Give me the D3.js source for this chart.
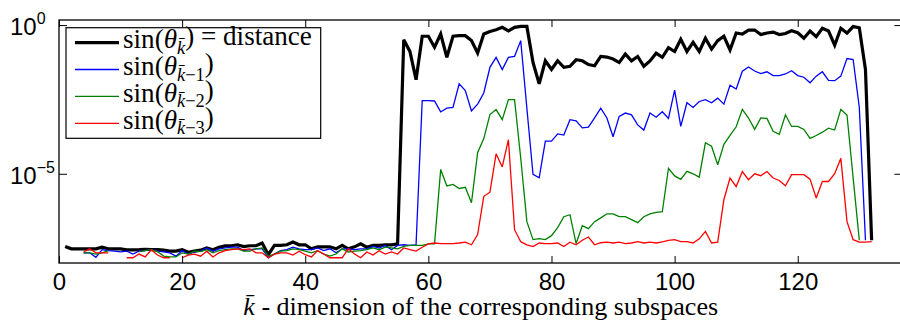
<!DOCTYPE html>
<html>
<head>
<meta charset="utf-8">
<script src="https://cdn.jsdelivr.net/npm/d3@7"></script>
<style>
  body { margin: 0; background: #fff; }
  svg { display: block; }
</style>
</head>
<body>
<script>
// values, one entry per k = 1..132 (null = not drawn)
let distance = [
  3.6e-8, 3.0e-8, 3.0e-8, 3.0e-8, 3.0e-8, 3.0e-8, 3.4e-8, 3.0e-8, 3.0e-8, 3.0e-8,
  2.75e-8, 2.75e-8, 2.8e-8, 2.9e-8, 2.8e-8, 2.8e-8, 2.7e-8, 2.5e-8, 2.5e-8, 2.8e-8,
  2.3e-8, 2.5e-8, 2.7e-8, 3.2e-8, 2.8e-8, 3.4e-8, 3.75e-8, 3.8e-8, 4.1e-8, 3.55e-8,
  3.8e-8, 3.8e-8, 4.7e-8, 1.9e-8, 3.9e-8, 3.9e-8, 4.1e-8, 5.1e-8, 4.1e-8, 4.1e-8,
  3.0e-8, 3.5e-8, 3.5e-8, 3.5e-8, 3.0e-8, 3.9e-8, 3.0e-8, 3.5e-8, 4.4e-8, 3.4e-8,
  3.9e-8, 3.9e-8, 4.1e-8, 4.1e-8, 4.4e-8, 0.32, 0.13, 0.0146, 0.42, 0.42,
  0.18, 0.50, 0.082, 0.42, 0.44, 0.44, 0.30, 0.115, 0.50, 0.61,
  0.70, 0.84, 0.64, 0.84, 0.90, 0.90, 0.055, 0.0105, 0.063, 0.032,
  0.063, 0.038, 0.041, 0.068, 0.063, 0.047, 0.043, 0.088, 0.084, 0.072,
  0.055, 0.106, 0.063, 0.088, 0.041, 0.062, 0.113, 0.082, 0.173, 0.129,
  0.33, 0.129, 0.26, 0.129, 0.36, 0.155, 0.30, 0.42, 0.145, 0.54,
  0.50, 0.68, 0.68, 0.48, 0.54, 0.58, 0.48, 0.52, 0.64, 0.55,
  0.36, 0.63, 0.41, 0.78, 0.63, 0.21, 0.78, 0.54, 0.89, 0.81,
  0.032, 5.8e-8
];

let sinKm1 = [
  null, null, null, 2.2e-8, 2.2e-8, 1.56e-8, 2.8e-8, 2.6e-8, 2.5e-8, 2.35e-8,
  2.5e-8, 2.0e-8, 2.5e-8, 2.6e-8, 2.8e-8, 2.5e-8, 2.35e-8, 2.2e-8, 1.7e-8, 2.6e-8,
  2.0e-8, 2.35e-8, 2.5e-8, 3.2e-8, 2.5e-8, 3.0e-8, 3.2e-8, 3.4e-8, 3.4e-8, 2.6e-8,
  2.8e-8, 3.0e-8, 3.0e-8, 1.5e-8, 2.0e-8, 2.6e-8, 2.8e-8, 3.4e-8, 3.0e-8, 2.8e-8,
  2.8e-8, 3.2e-8, 2.6e-8, 3.0e-8, 2.2e-8, 3.0e-8, 3.0e-8, 2.8e-8, 3.0e-8, 3.0e-8,
  3.6e-8, 3.2e-8, 3.9e-8, 2.8e-8, 3.9e-8, 4.1e-8, 3.9e-8, 4.1e-8, 0.0029, 0.0029,
  0.0028, 0.0012, 0.0016, 0.0017, 0.0105, 0.0063, 0.0013, 0.0022, 0.0052, 0.038,
  0.082, 0.032, 0.082, 0.089, 0.30, 0.0016, 9.5e-6, 7.3e-6, 1.25e-4, 1.25e-4,
  2.2e-4, 2.0e-4, 6.6e-4, 6.0e-4, 3.5e-4, 3.7e-4, 7.6e-4, 0.0016, 7.5e-4, 1.75e-4,
  8.5e-4, 0.0011, 9.55e-4, 4.4e-4, 2.95e-4, 0.0011, 8.0e-4, 0.00122, 7.3e-4, 0.0065,
  3.9e-4, 0.00245, 0.0017, 0.0027, 0.0031, 0.00245, 0.0035, 0.0022, 0.0095, 0.0071,
  0.028, 0.039, 0.0286, 0.0233, 0.0269, 0.0200, 0.0200, 0.0227, 0.0293, 0.0200,
  0.0176, 0.0115, 0.0192, 0.0269, 0.0139, 0.0135, 0.0192, 0.075, 0.0695, 0.0017,
  5.8e-8, null
];

let sinKm2 = [
  null, null, null, 2.2e-8, 2.2e-8, 2.0e-8, 2.2e-8, 2.6e-8, null, null,
  null, null, 2.4e-8, 2.6e-8, 2.8e-8, 2.4e-8, 1.7e-8, 1.6e-8, 1.6e-8, 2.2e-8,
  2.0e-8, 2.5e-8, 2.4e-8, 2.8e-8, 2.2e-8, 2.6e-8, 2.8e-8, 3.0e-8, 3.0e-8, 2.5e-8,
  2.5e-8, 3.0e-8, 3.2e-8, 1.7e-8, 2.0e-8, 2.5e-8, 2.6e-8, 3.0e-8, 2.8e-8, 2.5e-8,
  2.2e-8, 2.6e-8, 2.0e-8, 1.7e-8, 2.0e-8, 3.0e-8, 2.35e-8, 2.5e-8, 2.6e-8, 2.8e-8,
  3.2e-8, 2.8e-8, 3.4e-8, 3.2e-8, 3.0e-8, 3.6e-8, 3.9e-8, 3.9e-8, 3.9e-8, 4.4e-8,
  4.4e-8, 1.4e-5, 3.9e-6, 4.4e-6, 3.2e-6, 3.5e-6, 1.06e-6, 5.1e-5, 1.53e-4, 9.8e-4,
  0.00144, 6.6e-4, 0.0031, 0.0031, 3.4e-5, 2.45e-7, 6.1e-8, 6.6e-8, 6.1e-8, 8.3e-8,
  1.54e-7, 3.6e-7, 4.2e-7, 4.5e-8, 1.8e-7, 1.43e-7, 2.45e-7, 3.3e-7, 4.5e-7, 4.5e-7,
  3.6e-7, 3.6e-7, 2.86e-7, 2.27e-7, 3.6e-7, 4.5e-7, 5.0e-7, 5.3e-7, 1.53e-5, 8.5e-6,
  6.5e-6, 1.21e-5, 1.0e-5, 7.7e-6, 1.1e-4, 8.4e-5, 2.0e-5, 9.8e-5, 1.96e-4, 3.8e-4,
  0.00146, 7.5e-4, 3.1e-4, 7.5e-4, 7.3e-4, 2.67e-4, 2.1e-4, 9.6e-4, 3.9e-4, 3.9e-4,
  3.1e-4, 1.55e-4, 1.94e-4, 2.5e-4, 3.4e-4, 2.95e-4, 0.00146, 9.5e-4, 7.3e-6, 5.8e-8,
  null, null
];

let sinKm3 = [
  null, null, null, 2.35e-8, 3.0e-8, 2.2e-8, 2.2e-8, 2.2e-8, null, null,
  1.5e-8, 1.5e-8, 2.0e-8, 1.6e-8, 2.8e-8, 1.85e-8, 1.5e-8, 1.5e-8, null, 1.5e-8,
  1.85e-8, 2.0e-8, 1.7e-8, 2.5e-8, 1.6e-8, 2.2e-8, 2.6e-8, 2.8e-8, 3.0e-8, 2.8e-8,
  3.0e-8, 2.2e-8, 2.2e-8, 1.5e-8, 2.0e-8, 2.2e-8, 2.2e-8, 1.85e-8, 2.5e-8, 1.9e-8,
  1.6e-8, 2.6e-8, 2.0e-8, 1.5e-8, 1.5e-8, 1.5e-8, 3.0e-8, 2.0e-8, 1.5e-8, 2.35e-8,
  1.85e-8, 2.6e-8, 2.0e-8, 2.35e-8, 2.0e-8, 3.2e-8, 2.8e-8, 2.5e-8, 3.4e-8, 4.4e-8,
  4.7e-8, 4.5e-8, 4.5e-8, 4.5e-8, 4.7e-8, 5.0e-8, 4.1e-8, 9.0e-8, 1.75e-6, 2.4e-6,
  4.7e-5, 1.7e-5, 1.4e-4, 1.32e-7, 5.2e-8, 4.1e-8, 3.55e-8, 4.7e-8, 4.5e-8, 4.5e-8,
  4.7e-8, 3.6e-8, 5.0e-8, 4.1e-8, 5.8e-8, 7.5e-8, 4.1e-8, 4.8e-8, 5.0e-8, 4.7e-8,
  5.0e-8, 4.5e-8, 4.7e-8, 5.2e-8, 4.7e-8, 5.0e-8, 4.7e-8, 5.1e-8, 5.8e-8, 6.1e-8,
  5.2e-8, 5.2e-8, 4.7e-8, 6.5e-8, 1.16e-7, 4.7e-8, 5.0e-8, 1.34e-6, 7.2e-6, 3.7e-6,
  1.19e-5, 6.3e-6, 1.0e-5, 8.6e-6, 1.19e-5, 7.2e-6, 5.95e-6, 3.95e-6, 9.3e-6, 9.3e-6,
  9.3e-6, 6.6e-6, 1.53e-6, 5.5e-6, 5.5e-6, 1.0e-5, 3.3e-5, 2.45e-7, 6.1e-8, 5.0e-8,
  5.0e-8, 5.2e-8
];

let xTicks = [0, 20, 40, 60, 80, 100, 120];
let yTicks = [1, 1e-5];
let yTickExponents = ["0", "\u22125"];
let legendSubscripts = ["", "\u22121", "\u22122", "\u22123"];
let xLabelText = " - dimension of the corresponding subspaces";

// drawing styles, in legend order
let seriesList = [
  { values: distance, color: "#000000", width: 3.2 },
  { values: sinKm1, color: "#0000ff", width: 1.3 },
  { values: sinKm2, color: "#008000", width: 1.3 },
  { values: sinKm3, color: "#ff0000", width: 1.3 }
];

let width = 900;
let height = 321;
let plotLeft = 59, plotRight = 902.4, plotTop = 20, plotBottom = 263;
let sansFont = "'Liberation Sans', Arial, Helvetica, sans-serif";
let serifFont = "'Liberation Serif', 'Times New Roman', serif";

let xScale = d3.scaleLinear()
  .domain([0, 137])
  .range([plotLeft, plotRight]);

let yScale = d3.scaleLog()
  .domain([1e-8, 1.48])
  .range([plotBottom, plotTop]);

let svg = d3.select("body")
  .append("svg")
  .attr("width", width)
  .attr("height", height);

// the lines
let line = d3.line()
  .defined((d) => d.value != null)
  .x((d) => xScale(d.k))
  .y((d) => yScale(d.value));

seriesList.forEach((s) => {
  let points = s.values.map((v, i) => ({ k: i + 1, value: v }));
  svg.append("path")
    .datum(points)
    .attr("d", line)
    .attr("fill", "none")
    .attr("stroke", s.color)
    .attr("stroke-width", s.width)
    .attr("stroke-linejoin", "miter")
    .attr("stroke-miterlimit", 3);
});

// axes with inward ticks
let xAxisBottom = d3.axisBottom(xScale).tickValues(xTicks).tickSize(-7).tickPadding(10);
let xAxisTop = d3.axisTop(xScale).tickValues(xTicks).tickSize(-7).tickFormat("");
let yAxisLeft = d3.axisLeft(yScale).tickValues(yTicks).tickSize(-8).tickFormat("");
let yAxisRight = d3.axisRight(yScale).tickValues(yTicks).tickSize(-8).tickFormat("");

let gx = svg.append("g").attr("transform", `translate(0,${plotBottom})`).call(xAxisBottom);
svg.append("g").attr("transform", `translate(0,${plotTop})`).call(xAxisTop);
svg.append("g").attr("transform", `translate(${plotLeft},0)`).call(yAxisLeft);
svg.append("g").attr("transform", `translate(${plotRight},0)`).call(yAxisRight);

svg.selectAll(".domain").remove();
svg.selectAll(".tick line").attr("stroke", "#000").attr("stroke-width", 1);
gx.selectAll("text")
  .attr("font-family", sansFont)
  .attr("font-size", "24px")
  .attr("fill", "#000");

// y tick labels written as powers of ten
yTicks.forEach((v, i) => {
  let t = svg.append("text")
    .attr("x", 10)
    .attr("y", yScale(v) + 10)
    .attr("font-family", sansFont)
    .attr("font-size", "24px")
    .attr("fill", "#000");
  t.append("tspan").text("10");
  t.append("tspan")
    .attr("dy", -11)
    .attr("font-size", "16px")
    .text(yTickExponents[i]);
});

// box round the plot
svg.append("rect")
  .attr("x", plotLeft)
  .attr("y", plotTop)
  .attr("width", plotRight - plotLeft)
  .attr("height", plotBottom - plotTop)
  .attr("fill", "none")
  .attr("stroke", "#000")
  .attr("stroke-width", 1.3);

// x axis title
let xLabel = svg.append("text")
  .attr("x", (plotLeft + plotRight) / 2)
  .attr("y", 315)
  .attr("text-anchor", "middle")
  .attr("font-family", serifFont)
  .attr("font-size", "24px")
  .attr("fill", "#000");
xLabel.append("tspan").attr("font-style", "italic").text("k\u0304");
xLabel.append("tspan").text(xLabelText);
let xw = xLabel.node().getComputedTextLength();
xLabel.attr("font-size", (24 * 475 / xw) + "px");

// legend
let legend = svg.append("g");
legend.append("rect")
  .attr("x", 66)
  .attr("y", 27.7)
  .attr("width", 254.7)
  .attr("height", 110.6)
  .attr("fill", "#fff")
  .attr("stroke", "#000")
  .attr("stroke-width", 1.2);

let legendTexts = [];
seriesList.forEach((s, i) => {
  let rowY = 42.6 + i * 26.9;
  legend.append("line")
    .attr("x1", 75)
    .attr("x2", 119)
    .attr("y1", rowY)
    .attr("y2", rowY)
    .attr("stroke", s.color)
    .attr("stroke-width", s.width);

  let t = legend.append("text")
    .attr("x", 123)
    .attr("y", rowY + 5.5)
    .attr("font-family", serifFont)
    .attr("font-size", "22px")
    .attr("fill", "#000");
  t.append("tspan").text("sin(");
  t.append("tspan").attr("font-style", "italic").text("\u03b8");
  t.append("tspan")
    .attr("dy", "0.3em")
    .attr("font-size", "0.68em")
    .attr("font-style", "italic")
    .text("k\u0304");
  if (legendSubscripts[i] != "") {
    t.append("tspan")
      .attr("font-size", "0.68em")
      .text(legendSubscripts[i]);
  }
  t.append("tspan").attr("dy", "-0.3em").text(")");
  if (i == 0) {
    t.append("tspan").text(" = distance");
  }
  legendTexts.push(t);
});

// fit legend text width to the box
let lw = legendTexts[0].node().getComputedTextLength();
legendTexts.forEach((t) => t.attr("font-size", (22 * 189 / lw) + "px"));
</script>
</body>
</html>
